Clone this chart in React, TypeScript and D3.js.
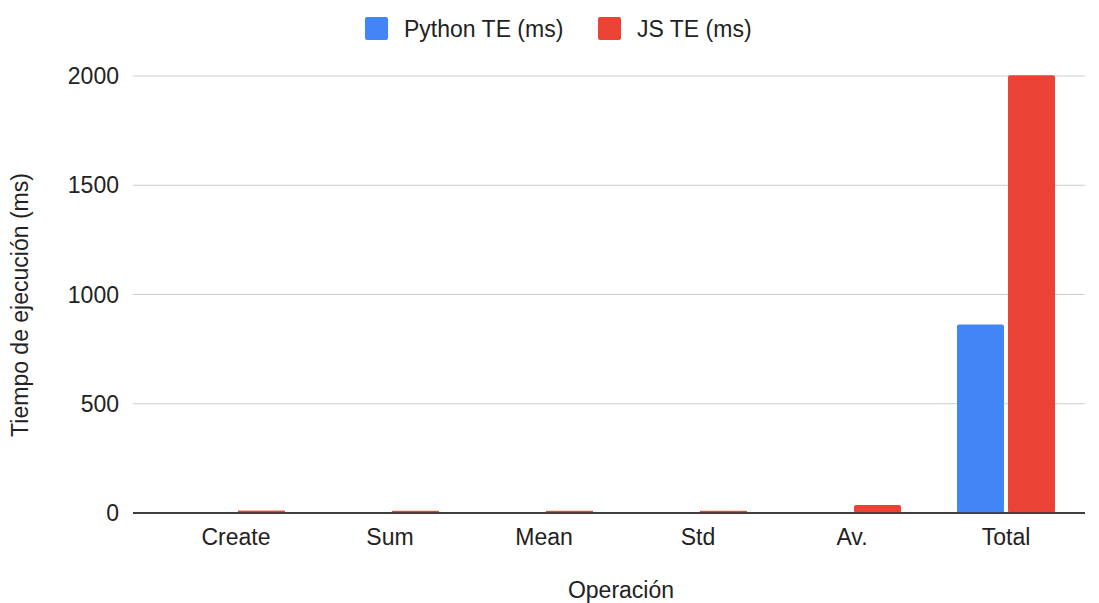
import React from "react";
import * as d3 from "d3";

const categories = ["Create", "Sum", "Mean", "Std", "Av.", "Total"];
const pythonTE = [0.3, 0.2, 0.2, 0.3, 0.4, 863];
const jsTE = [11, 10, 10, 10, 37, 2004];
const yTicks = [0, 500, 1000, 1500, 2000];
const seriesNames = ["Python TE (ms)", "JS TE (ms)"];
const colors = ["#4285f4", "#ea4335"];

const W = 1099;
const H = 603;
const FONT = "Arial, 'Liberation Sans', sans-serif";
const FS = 23;

export default function App() {
  const gridLeft = 133;
  const gridRight = 1085;
  const x = d3.scaleBand<string>().domain(categories).range([159, 1083]).paddingInner(0).paddingOuter(0);
  const y = d3.scaleLinear().domain([0, 2000]).range([513, 76]);
  const barW = 47;
  const gap = 4;
  const series = [pythonTE, jsTE];

  return (
    <svg width={W} height={H} style={{ position: "absolute", left: 0, top: 0, background: "#fff" }}>
      <rect width={W} height={H} fill="#fff" />
      {/* legend */}
      <g fontFamily={FONT} fontSize={FS} fill="#222">
        <rect x={365} y={17} width={23} height={23} rx={2} fill={colors[0]} />
        <text x={404} y={37}>{seriesNames[0]}</text>
        <rect x={598} y={17} width={23} height={23} rx={2} fill={colors[1]} />
        <text x={637} y={37}>{seriesNames[1]}</text>
      </g>
      {/* gridlines */}
      {yTicks.map((t) => (
        <line key={t} x1={gridLeft} x2={gridRight} y1={y(t)} y2={y(t)} stroke={t === 0 ? "#333" : "#ccc"} strokeWidth={t === 0 ? 1.5 : 1} />
      ))}
      {/* y tick labels */}
      <g fontFamily={FONT} fontSize={FS} fill="#222" textAnchor="end">
        {yTicks.map((t) => (
          <text key={t} x={119} y={y(t) + 8}>{t}</text>
        ))}
      </g>
      {/* bars */}
      {categories.map((c, i) => {
        const cx = (x(c) as number) + x.bandwidth() / 2;
        return series.map((s, k) => {
          const v = s[i];
          const bx = k === 0 ? cx - gap / 2 - barW : cx + gap / 2;
          const h = y(0) - y(v);
          if (h < 0.5) return null;
          return <rect key={c + k} x={bx} y={y(v)} width={barW} height={h} fill={colors[k]} rx={h > 4 ? 2 : 0} />;
        });
      })}
      {/* baseline redraw */}
      <line x1={gridLeft} x2={gridRight} y1={y(0)} y2={y(0)} stroke="#333" strokeWidth={1.5} />
      {/* x labels */}
      <g fontFamily={FONT} fontSize={FS} fill="#222" textAnchor="middle">
        {categories.map((c) => (
          <text key={c} x={(x(c) as number) + x.bandwidth() / 2} y={545}>{c}</text>
        ))}
      </g>
      <text x={621} y={598} fontFamily={FONT} fontSize={FS} fill="#222" textAnchor="middle">Operación</text>
      <text transform="translate(28,305) rotate(-90)" fontFamily={FONT} fontSize={FS} fill="#222" textAnchor="middle">Tiempo de ejecución (ms)</text>
    </svg>
  );
}
